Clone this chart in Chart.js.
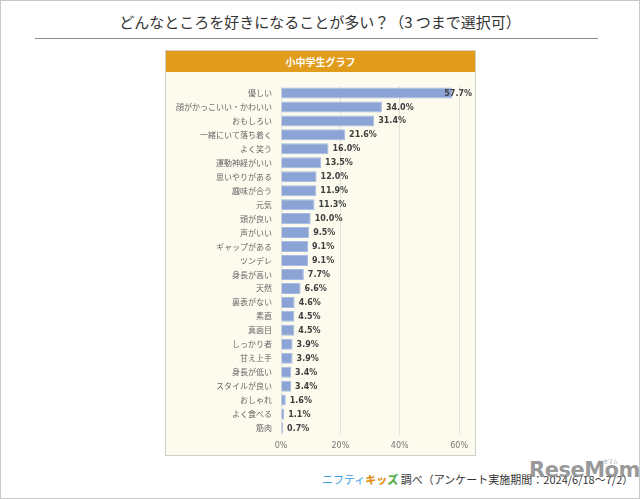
<!DOCTYPE html>
<html><head><meta charset="utf-8">
<script src="https://cdn.jsdelivr.net/npm/chart.js@4.4.1/dist/chart.umd.min.js"></script>
<style>
html,body{margin:0;padding:0;background:#fff;}
#page{position:relative;width:638px;height:497px;border:1px solid #c8c8c8;overflow:hidden;font-family:"Noto Sans CJK JP","Noto Sans",sans-serif;}
#title{position:absolute;left:0;top:11px;width:638px;text-align:center;font-size:15px;color:#333;line-height:20px;}
#rule{position:absolute;left:34px;top:37px;width:563px;height:0;border-top:1px solid #8a8a8a;}
#panel{position:absolute;left:164px;top:49px;width:309px;height:404px;border:1px solid #d0d0c8;background:#fcfbee;}
#head{position:absolute;left:0;top:0;width:309px;height:21px;background:#e09c1a;color:#fff;font-weight:bold;font-size:10px;text-align:center;line-height:21px;}
#cv{position:absolute;left:165px;top:70px;}
#foot{position:absolute;left:321px;top:470px;font-size:11px;color:#333;line-height:16px;white-space:nowrap;}
#foot .nf{color:#3aa0e0;}
#foot .k1{color:#f08a00;font-weight:bold;text-shadow:0 0 2px #bfe3f5;}
#foot .k2{color:#4faa2e;font-weight:bold;text-shadow:0 0 2px #bfe3f5;}
#wm{position:absolute;left:528px;top:457px;font-family:"DejaVu Sans",sans-serif;font-weight:bold;font-size:21px;color:rgba(120,120,120,0.75);letter-spacing:-0.5px;}
#wm2{position:absolute;left:597px;top:456px;font-size:5px;color:rgba(120,120,120,0.8);}
</style></head>
<body>
<div id="page">
  <div id="title">どんなところを好きになることが多い？（3 つまで選択可）</div>
  <div id="rule"></div>
  <div id="panel"><div id="head">小中学生グラフ</div></div>
  <canvas id="cv" width="308" height="383"></canvas>
  <div id="foot"><span class="nf">ニフティ</span><span class="k1">キッ</span><span class="k2">ズ</span> 調べ（アンケート実施期間：2024/6/18～7/2）</div>
  <div id="wm">ReseMom</div>
  <div id="wm2">リセマム</div>
</div>
<script>
const categories = ["優しい","顔がかっこいい・かわいい","おもしろい","一緒にいて落ち着く","よく笑う","運動神経がいい","思いやりがある","趣味が合う","元気","頭が良い","声がいい","ギャップがある","ツンデレ","身長が高い","天然","裏表がない","素直","真面目","しっかり者","甘え上手","身長が低い","スタイルが良い","おしゃれ","よく食べる","筋肉"];
const values = [57.7,34.0,31.4,21.6,16.0,13.5,12.0,11.9,11.3,10.0,9.5,9.1,9.1,7.7,6.6,4.6,4.5,4.5,3.9,3.9,3.4,3.4,1.6,1.1,0.7];
const xTicks = [0,20,40,60];

const labelPlugin = {
  id:'vlabels',
  afterDatasetsDraw(chart){
    const ctx = chart.ctx;
    const meta = chart.getDatasetMeta(0);
    ctx.save();
    ctx.font = 'bold 8px "DejaVu Sans"';
    ctx.fillStyle = '#404040';
    ctx.textBaseline = 'middle';
    ctx.textAlign = 'left';
    const limit = chart.width - 2;
    meta.data.forEach((bar,i)=>{
      const txt = values[i].toFixed(1)+'%';
      const w = ctx.measureText(txt).width;
      let x = bar.x + 4;
      if (x + w > limit) x = limit - w;
      ctx.fillText(txt, x, bar.y + 0.5);
    });
    ctx.restore();
  }
};

new Chart(document.getElementById('cv'), {
  type:'bar',
  data:{labels:categories, datasets:[{data:values, backgroundColor:'#8ba4d5', borderColor:'#a7bce3', borderWidth:{top:1,bottom:1,right:1,left:0}, barPercentage:0.79, categoryPercentage:1}]},
  options:{
    indexAxis:'y', responsive:false, animation:false, devicePixelRatio:1,
    layout:{padding:{top:15,right:14,left:0,bottom:0}},
    plugins:{legend:{display:false}, tooltip:{enabled:false}},
    scales:{
      x:{min:0,max:60,
         afterBuildTicks(s){ s.ticks = xTicks.map(v=>({value:v})); },
         afterFit(s){ s.height = 19; },
         grid:{color:'#e3e3dc', drawTicks:false}, border:{display:false},
         ticks:{padding:6, color:'#777', font:{family:'"DejaVu Sans"', size:8}, callback:v=>v+'%'}},
      y:{afterFit(s){ s.width = 115; },
         grid:{display:false, drawTicks:false}, border:{display:false},
         ticks:{padding:9, color:'#666', font:{family:'"Noto Sans CJK JP"', size:8}}}
    }
  },
  plugins:[labelPlugin]
});
</script>
</body></html>
